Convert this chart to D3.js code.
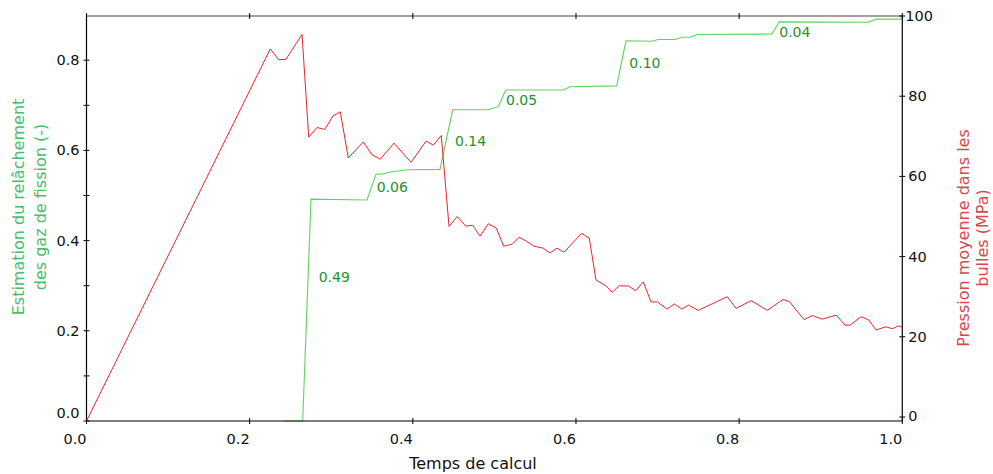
<!DOCTYPE html>
<html>
<head>
<meta charset="utf-8">
<script src="https://cdn.jsdelivr.net/npm/d3@7"></script>
<style>
  html, body { margin: 0; padding: 0; background: #fff; }
  svg text { font-family: "DejaVu Sans", sans-serif; }
</style>
</head>
<body>
<div id="chart"></div>
<script>
/* Relachement des gaz de fission vs pression dans les bulles */

// temps de calcul (normalise) et pression moyenne (MPa)
const pressureTime = [0, 0.2253, 0.2356, 0.2445, 0.2642, 0.2724, 0.2825, 0.2920, 0.3022, 0.3111,
  0.3209, 0.3393, 0.3500, 0.3601, 0.3769, 0.3978, 0.4162, 0.4251, 0.4349, 0.4444,
  0.4545, 0.4648, 0.4734, 0.4824, 0.4925, 0.5023, 0.5114, 0.5219, 0.5302, 0.5396,
  0.5485, 0.5599, 0.5682, 0.5767, 0.5853, 0.6070, 0.6163, 0.6245, 0.6368, 0.6445,
  0.6527, 0.6641, 0.6732, 0.6825, 0.6920, 0.6997, 0.7116, 0.7205, 0.7300, 0.7377,
  0.7500, 0.7855, 0.7962, 0.8149, 0.8345, 0.8538, 0.8615, 0.8795, 0.8897, 0.9016,
  0.9191, 0.9298, 0.9359, 0.9494, 0.9588, 0.9678, 0.9800, 0.9877, 0.9951, 0.9993];
const pressure = [-1.0, 91.8, 89.1, 89.2, 95.4, 69.8, 72.2, 71.7, 75.1, 76.1,
  64.6, 68.6, 65.4, 64.3, 68.3, 63.5, 68.8, 67.8, 70.2, 47.5,
  50.0, 47.6, 47.8, 45.1, 48.2, 47.1, 42.6, 43.1, 44.8, 43.8,
  42.6, 42.1, 40.9, 42.1, 41.1, 45.8, 44.6, 34.2, 32.7, 31.1,
  32.7, 32.7, 31.5, 33.7, 28.7, 28.7, 26.9, 28.2, 26.9, 27.9,
  26.6, 30.0, 27.1, 29.0, 26.6, 29.3, 28.8, 24.3, 25.3, 24.4,
  25.4, 22.9, 22.9, 25.0, 24.2, 21.7, 22.5, 22.0, 22.7, 22.4];

// relachement estime (-)
const releaseTime = [0.2412, 0.2650, 0.2752, 0.3438, 0.3549, 0.3638, 0.3699, 0.3925, 0.4333, 0.4489,
  0.4925, 0.5048, 0.5139, 0.5845, 0.5927, 0.6499, 0.6613, 0.6928, 0.7009, 0.7214,
  0.7296, 0.7398, 0.7487, 0.8399, 0.8492, 0.9583, 0.9678, 0.9993];
const release = [0.0, 0.0, 0.492, 0.490, 0.547, 0.548, 0.551, 0.557, 0.558, 0.690,
  0.690, 0.697, 0.734, 0.734, 0.741, 0.743, 0.843, 0.842, 0.846, 0.846,
  0.851, 0.851, 0.857, 0.858, 0.885, 0.884, 0.891, 0.891];

// annotations des sauts
const stepLabels = ['0.49', '0.06', '0.14', '0.05', '0.10', '0.04'];
const stepLabelTime = [0.2846, 0.3557, 0.4517, 0.5142, 0.6654, 0.8492];
const stepLabelValue = [0.318, 0.5195, 0.621, 0.712, 0.794, 0.862];

// ticks
const xTicks = [0, 0.2, 0.4, 0.6, 0.8, 1.0];
const leftTicks = [0, 0.1, 0.2, 0.3, 0.4, 0.5, 0.6, 0.7, 0.8];
const leftLabels = [0, 0.2, 0.4, 0.6, 0.8];
const rightTicks = [0, 20, 40, 60, 80, 100];

const config = {
  WIDTH: 993,
  HEIGHT: 474,
  LEFT: 86.5,
  RIGHT: 902.3,
  TOP: 16,
  BOTTOM: 421,
  TICK: 3,
  GREEN_LINE: '#5fd35f',
  GREEN_TEXT: '#22922a',
  GREEN_LABEL: '#4cbb6c',
  RED_LINE: '#e8262b',
  RED_LABEL: '#d9474b'
};

const svg = d3.select('#chart').append('svg')
  .attr('width', config.WIDTH)
  .attr('height', config.HEIGHT);

const x = d3.scaleLinear().domain([0, 1]).range([config.LEFT, config.RIGHT]);
const yLeft = d3.scaleLinear().domain([0, 0.898]).range([config.BOTTOM, config.TOP]);
const yRight = d3.scaleLinear().domain([-1.0, 100]).range([config.BOTTOM, config.TOP]);

// lines
const pressureLine = d3.line()
  .x(i => x(pressureTime[i]))
  .y(i => yRight(pressure[i]));

const releaseLine = d3.line()
  .x(i => x(releaseTime[i]))
  .y(i => yLeft(release[i]));

svg.append('path')
  .attr('d', releaseLine(d3.range(release.length)))
  .attr('fill', 'none')
  .attr('stroke', config.GREEN_LINE)
  .attr('stroke-width', 1.1);

svg.append('path')
  .attr('d', pressureLine(d3.range(pressure.length)))
  .attr('fill', 'none')
  .attr('stroke', config.RED_LINE)
  .attr('stroke-width', 1);

svg.append('g').selectAll('text')
  .data(stepLabels)
  .enter().append('text')
  .attr('x', (d, i) => x(stepLabelTime[i]))
  .attr('y', (d, i) => yLeft(stepLabelValue[i]))
  .attr('dy', '0.35em')
  .attr('fill', config.GREEN_TEXT)
  .style('font-size', '14px')
  .text(d => d);

// frame
const frame = svg.append('g').attr('stroke', '#000').attr('stroke-width', 1.2);
frame.append('line').attr('x1', config.LEFT).attr('x2', config.LEFT)
  .attr('y1', config.TOP).attr('y2', config.BOTTOM);
frame.append('line').attr('x1', config.RIGHT).attr('x2', config.RIGHT)
  .attr('y1', config.TOP).attr('y2', config.BOTTOM);
frame.append('line').attr('x1', config.LEFT).attr('x2', config.RIGHT)
  .attr('y1', config.BOTTOM).attr('y2', config.BOTTOM);
frame.append('line').attr('x1', config.LEFT).attr('x2', config.RIGHT)
  .attr('y1', config.TOP).attr('y2', config.TOP).attr('stroke', '#444');

// tick marks (both sides of the spine, like the source)
const ticks = svg.append('g').attr('stroke', '#000').attr('stroke-width', 1);

xTicks.forEach(t => {
  ticks.append('line').attr('x1', x(t)).attr('x2', x(t))
    .attr('y1', config.BOTTOM - config.TICK).attr('y2', config.BOTTOM + config.TICK);
  ticks.append('line').attr('x1', x(t)).attr('x2', x(t))
    .attr('y1', config.TOP - config.TICK).attr('y2', config.TOP + config.TICK);
});
leftTicks.forEach(t => {
  ticks.append('line').attr('x1', config.LEFT - config.TICK).attr('x2', config.LEFT + config.TICK)
    .attr('y1', yLeft(t)).attr('y2', yLeft(t));
});
rightTicks.forEach(t => {
  ticks.append('line').attr('x1', config.RIGHT - config.TICK).attr('x2', config.RIGHT + config.TICK)
    .attr('y1', yRight(t)).attr('y2', yRight(t));
});

// tick labels
const tickText = svg.append('g').attr('fill', '#111').style('font-size', '14.5px');

xTicks.forEach(t => {
  tickText.append('text')
    .attr('x', x(t)).attr('y', config.BOTTOM + 18)
    .attr('dy', '0.35em')
    .attr('text-anchor', 'end')
    .text(d3.format('.1f')(t));
});
leftLabels.forEach(t => {
  tickText.append('text')
    .attr('x', config.LEFT - 7)
    .attr('y', yLeft(t) - (t === 0 ? 8 : 0))
    .attr('dy', '0.35em')
    .attr('text-anchor', 'end')
    .text(d3.format('.1f')(t));
});
rightTicks.forEach(t => {
  tickText.append('text')
    .attr('x', config.RIGHT + (t === 100 ? 3 : 6))
    .attr('y', yRight(t) - (t === 0 ? 1 : 0))
    .attr('dy', '0.35em')
    .text(t);
});

// axis titles
svg.append('text')
  .attr('x', 473).attr('y', 463)
  .attr('dy', '0.35em')
  .attr('text-anchor', 'middle')
  .attr('fill', '#111')
  .style('font-size', '16px')
  .text('Temps de calcul');

const leftTitle = svg.append('text')
  .attr('transform', 'translate(0,207) rotate(-90)')
  .attr('text-anchor', 'middle')
  .attr('fill', config.GREEN_LABEL)
  .style('font-size', '16px');
leftTitle.append('tspan').attr('x', 0).attr('y', 24).text('Estimation du relâchement');
leftTitle.append('tspan').attr('x', 0).attr('y', 46).text('des gaz de fission (-)');

const rightTitle = svg.append('text')
  .attr('transform', 'translate(0,238) rotate(-90)')
  .attr('text-anchor', 'middle')
  .attr('fill', config.RED_LABEL)
  .style('font-size', '16px');
rightTitle.append('tspan').attr('x', 0).attr('y', 969).text('Pression moyenne dans les');
rightTitle.append('tspan').attr('x', 0).attr('y', 988).text('bulles (MPa)');
</script>
</body>
</html>
